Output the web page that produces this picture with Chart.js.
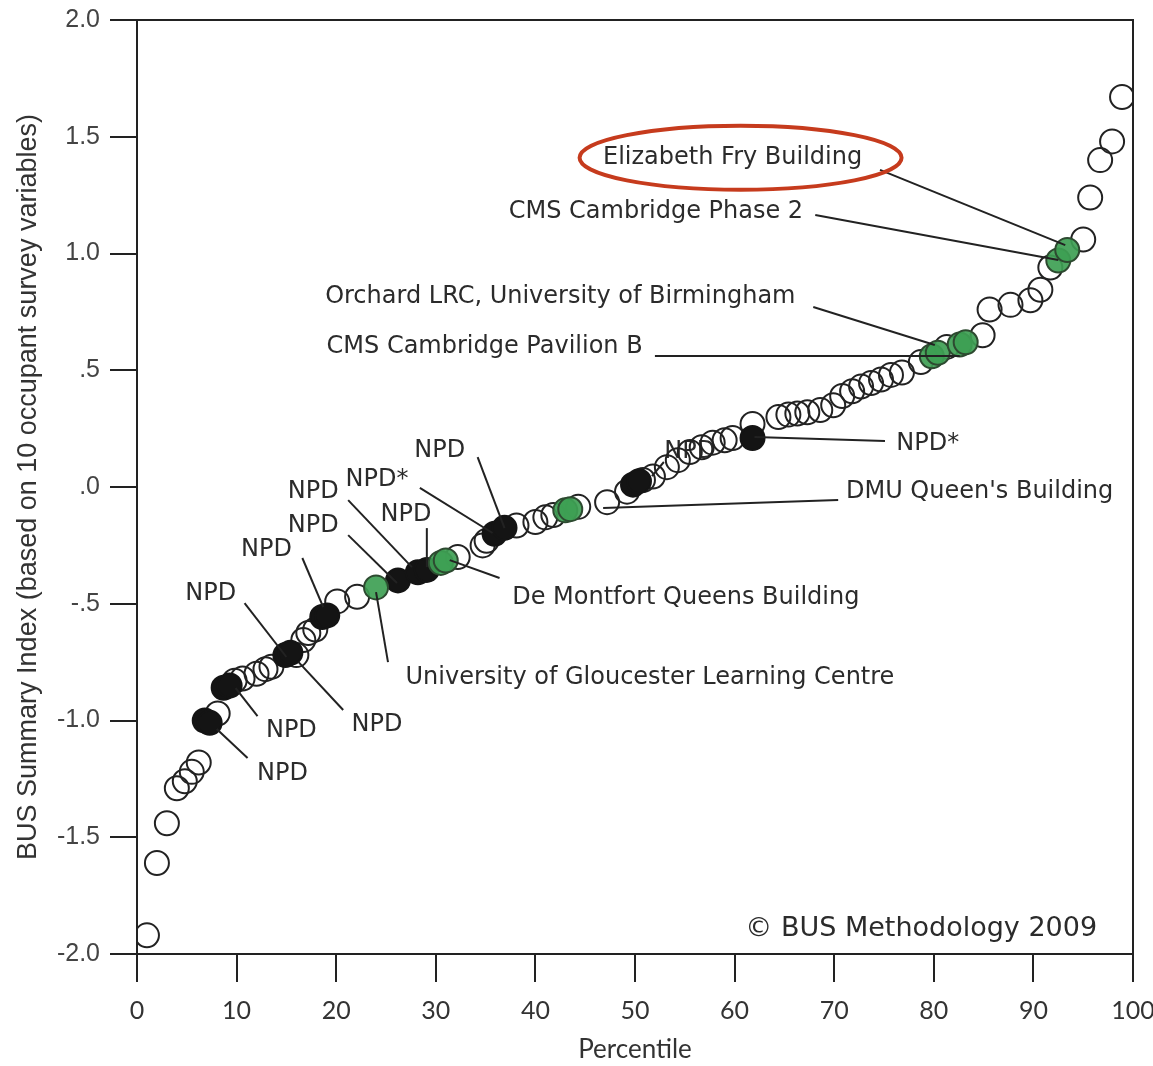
<!DOCTYPE html>
<html>
<head>
<meta charset="utf-8">
<title>BUS Summary Index</title>
<script src="https://cdn.jsdelivr.net/npm/chart.js@4.4.1/dist/chart.umd.min.js"></script>
<style>
    body { margin: 0; background: #fff; }
    #wrap { width: 1153px; height: 1066px; }
</style>
</head>
<body>
<div id="wrap"><canvas id="chart" width="1153" height="1066"></canvas></div>
<script>
'use strict';

// open circles
const openX = [1, 2, 3, 4, 4.8, 5.5, 6.2, 8.1, 9.8, 10.6, 12, 12.9, 13.5, 16, 16.7, 17.2, 17.9, 20.1, 22.1,
    32.2, 34.7, 35.1, 38.1, 40, 41, 41.8, 44.3, 47.2, 49.2, 50.8, 51.8, 53.2, 54.3, 55.5, 56.7, 57.8, 59, 59.8,
    61.8, 64.4, 65.4, 66.3, 67.3, 68.6, 69.9, 70.8, 71.8, 72.7, 73.7, 74.7, 75.7, 76.8, 78.7,
    81.3, 84.9, 85.6, 87.7, 89.7, 90.7, 91.7, 95, 95.7, 96.7, 97.9, 98.9];
const openY = [-1.92, -1.61, -1.44, -1.29, -1.26, -1.22, -1.18, -0.97, -0.83, -0.82, -0.80, -0.78, -0.77, -0.72, -0.655, -0.625, -0.61, -0.49, -0.47,
    -0.30, -0.25, -0.23, -0.165, -0.15, -0.13, -0.12, -0.085, -0.065, -0.02, 0.03, 0.045, 0.085, 0.115, 0.15, 0.17, 0.19, 0.20, 0.21,
    0.27, 0.30, 0.31, 0.315, 0.32, 0.33, 0.35, 0.39, 0.41, 0.43, 0.445, 0.46, 0.48, 0.49, 0.535,
    0.60, 0.65, 0.76, 0.78, 0.80, 0.845, 0.94, 1.06, 1.24, 1.40, 1.48, 1.67];

// NPD buildings (filled black)
const npdX = [6.8, 7.3, 8.7, 9.3, 14.9, 15.4, 18.6, 19.1, 26.2, 28.2, 29.1, 35.9, 36.9, 49.8, 50.4, 61.8];
const npdY = [-1.0, -1.01, -0.86, -0.85, -0.72, -0.71, -0.557, -0.55, -0.40, -0.365, -0.355, -0.20, -0.175, 0.01, 0.025, 0.21];

// highlighted buildings (green)
const greenX = [24, 30.5, 31, 43, 43.5, 79.8, 80.4, 82.6, 83.2, 92.5, 93.4];
const greenY = [-0.43, -0.325, -0.315, -0.10, -0.095, 0.56, 0.575, 0.61, 0.62, 0.97, 1.015];

const xTicks = [0, 10, 20, 30, 40, 50, 60, 70, 80, 90, 100];
const yTickLabels = ['-2.0', '-1.5', '-1.0', '-.5', '.0', '.5', '1.0', '1.5', '2.0'];

// label text, text anchor, leader line start and end (data units)
const notes = [
    { text: 'Elizabeth Fry Building', at: [59.8, 1.41], from: [74.6, 1.358], to: [93.2, 1.036] },
    { text: 'CMS Cambridge Phase 2', at: [52.1, 1.18], from: [68.1, 1.165], to: [92.5, 0.972] },
    { text: 'Orchard LRC, University of Birmingham', at: [42.5, 0.814], from: [67.9, 0.771], to: [80.1, 0.608] },
    { text: 'CMS Cambridge Pavilion B', at: [34.9, 0.60], from: [52.0, 0.561], to: [82.6, 0.561] },
    { text: 'NPD*', at: [79.4, 0.184], from: [75.1, 0.197], to: [62.0, 0.214] },
    { text: 'DMU Queen\'s Building', at: [84.6, -0.021], from: [70.4, -0.056], to: [46.8, -0.09] },
    { text: 'De Montfort Queens Building', at: [55.1, -0.475], from: [36.4, -0.39], to: [31.4, -0.313] },
    { text: 'University of Gloucester Learning Centre', at: [51.5, -0.818], from: [25.2, -0.75], to: [24.0, -0.45] },
    { text: 'NPD', at: [30.4, 0.154], from: [34.2, 0.128], to: [36.9, -0.176] },
    { text: 'NPD*', at: [24.1, 0.03], from: [28.4, -0.004], to: [35.7, -0.197] },
    { text: 'NPD', at: [17.7, -0.021], from: [21.2, -0.056], to: [27.6, -0.343] },
    { text: 'NPD', at: [17.7, -0.167], from: [21.2, -0.206], to: [26.1, -0.411] },
    { text: 'NPD', at: [27.0, -0.12], from: [29.1, -0.176], to: [29.1, -0.343] },
    { text: 'NPD', at: [13.0, -0.27], from: [16.6, -0.304], to: [18.7, -0.514] },
    { text: 'NPD', at: [7.4, -0.458], from: [10.8, -0.497], to: [15.0, -0.728] },
    { text: 'NPD', at: [24.1, -1.019], from: [20.7, -0.955], to: [16.2, -0.749] },
    { text: 'NPD', at: [15.5, -1.045], from: [12.1, -0.981], to: [9.9, -0.861] },
    { text: 'NPD', at: [14.6, -1.229], from: [11.1, -1.161], to: [8.0, -1.036] }
];
// this one sits behind the circles
const hiddenNote = { text: 'NPD', at: [55.5, 0.15], from: [51.7, 0.047], to: [52.9, 0.107] };

function toPoints(xs, ys) {
    return xs.map((x, i) => ({ x: x, y: ys[i] }));
}

function drawNote(chart, note) {
    const ctx = chart.ctx;
    const sx = chart.scales.x, sy = chart.scales.y;
    ctx.save();
    ctx.strokeStyle = '#222';
    ctx.lineWidth = 2;
    ctx.beginPath();
    ctx.moveTo(sx.getPixelForValue(note.from[0]), sy.getPixelForValue(note.from[1]));
    ctx.lineTo(sx.getPixelForValue(note.to[0]), sy.getPixelForValue(note.to[1]));
    ctx.stroke();
    ctx.fillStyle = '#2b2b2b';
    ctx.font = '24px "DejaVu Sans"';
    ctx.textAlign = 'center';
    ctx.textBaseline = 'middle';
    ctx.fillText(note.text, sx.getPixelForValue(note.at[0]), sy.getPixelForValue(note.at[1]));
    ctx.restore();
}

const notesPlugin = {
    id: 'notes',
    beforeDatasetsDraw(chart) {
        drawNote(chart, hiddenNote);
    },
    afterDatasetsDraw(chart) {
        const ctx = chart.ctx;
        const area = chart.chartArea;
        const sx = chart.scales.x, sy = chart.scales.y;

        // top and right frame lines
        ctx.save();
        ctx.strokeStyle = '#222';
        ctx.lineWidth = 2;
        ctx.beginPath();
        ctx.moveTo(area.left, area.top);
        ctx.lineTo(area.right, area.top);
        ctx.lineTo(area.right, area.bottom);
        ctx.stroke();
        ctx.restore();

        notes.forEach(n => drawNote(chart, n));

        // red ring round the first label
        ctx.save();
        ctx.strokeStyle = '#c63b1d';
        ctx.lineWidth = 4;
        ctx.beginPath();
        ctx.ellipse(sx.getPixelForValue(60.6), sy.getPixelForValue(1.41), 161, 32, 0, 0, Math.PI * 2);
        ctx.stroke();

        ctx.fillStyle = '#2b2b2b';
        ctx.font = '27px "DejaVu Sans"';
        ctx.textAlign = 'right';
        ctx.textBaseline = 'middle';
        ctx.fillText('\u00A9 BUS Methodology 2009', sx.getPixelForValue(96.4), sy.getPixelForValue(-1.893));
        ctx.restore();
    }
};

const ctx = document.getElementById('chart');
new Chart(ctx, {
    type: 'scatter',
    data: {
        datasets: [
            {
                label: 'Highlighted',
                data: toPoints(greenX, greenY),
                pointRadius: 12,
                pointBorderWidth: 2,
                backgroundColor: 'rgba(62,160,84,0.92)',
                borderColor: '#2d4a30'
            },
            {
                label: 'NPD',
                data: toPoints(npdX, npdY),
                pointRadius: 12,
                pointBorderWidth: 2,
                backgroundColor: '#141414',
                borderColor: '#141414'
            },
            {
                label: 'Buildings',
                data: toPoints(openX, openY),
                pointRadius: 12,
                pointBorderWidth: 2,
                backgroundColor: 'rgba(0,0,0,0)',
                borderColor: '#222'
            }
        ]
    },
    options: {
        responsive: false,
        animation: false,
        layout: { padding: { top: 20, right: 20, left: 0, bottom: 0 } },
        plugins: {
            legend: { display: false },
            tooltip: { enabled: false }
        },
        scales: {
            x: {
                type: 'linear',
                min: 0,
                max: 100,
                afterFit: s => {
                    s.height = 112;
                    s.paddingLeft = 0;
                    s.paddingRight = 0;
                },
                afterBuildTicks: s => { s.ticks = xTicks.map(v => ({ value: v })); },
                ticks: {
                    color: '#333',
                    font: { family: 'Lato', size: 25 },
                    padding: 14,
                    maxRotation: 0
                },
                grid: { drawOnChartArea: false, drawTicks: true, tickLength: 28, tickColor: '#222', lineWidth: 2 },
                border: { display: true, color: '#222', width: 2 },
                title: {
                    display: true,
                    text: 'Percentile',
                    color: '#333',
                    font: { family: 'Lato', size: 26 },
                    padding: { top: 0, bottom: 1 }
                }
            },
            y: {
                min: -2,
                max: 2,
                afterFit: s => {
                    s.width = 137;
                    s.paddingTop = 0;
                    s.paddingBottom = 0;
                },
                ticks: {
                    stepSize: 0.5,
                    color: '#444',
                    font: { family: 'Liberation Sans', size: 25 },
                    padding: 10,
                    callback: (v, i) => yTickLabels[i]
                },
                grid: { drawOnChartArea: false, drawTicks: true, tickLength: 27, tickColor: '#222', lineWidth: 2 },
                border: { display: true, color: '#222', width: 2 },
                title: {
                    display: true,
                    text: 'BUS Summary Index (based on 10 occupant survey variables)',
                    color: '#333',
                    font: { family: 'Liberation Sans', size: 27 },
                    padding: { top: 12, bottom: 0 }
                }
            }
        }
    },
    plugins: [notesPlugin]
});
</script>
</body>
</html>
